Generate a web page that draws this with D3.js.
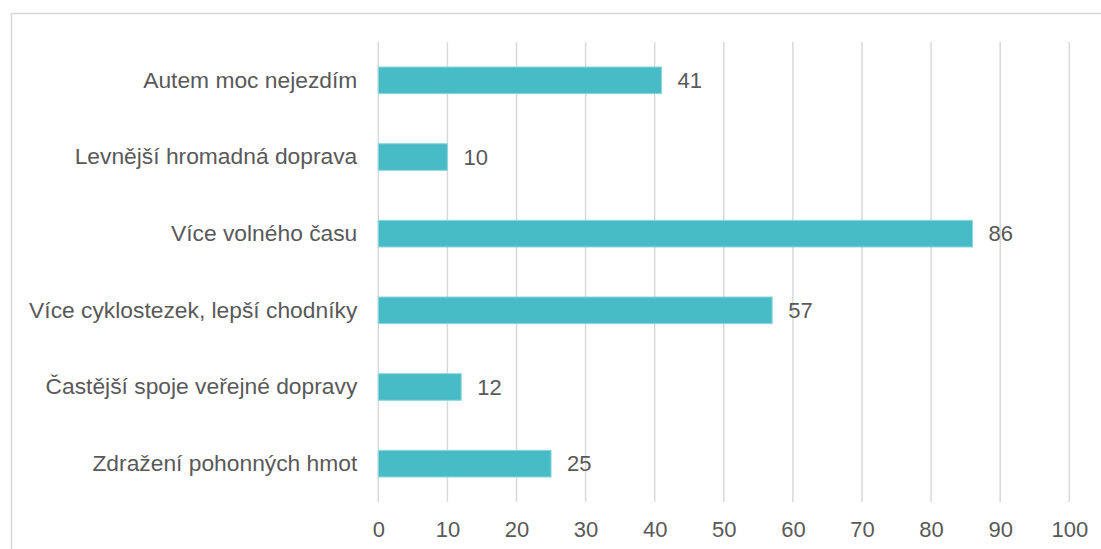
<!DOCTYPE html>
<html>
<head>
<meta charset="utf-8">
<script src="https://cdn.jsdelivr.net/npm/d3@7"></script>
<style>
  body { margin: 0; background: #fff; }
  svg text { font-family: "Liberation Sans", Arial, sans-serif; fill: #595959; }
</style>
</head>
<body>
<svg id="chart" width="1101" height="549"></svg>
<script>
// data
var categories = ['Autem moc nejezdím', 'Levnější hromadná doprava', 'Více volného času',
  'Více cyklostezek, lepší chodníky', 'Častější spoje veřejné dopravy', 'Zdražení pohonných hmot'];
var values = [41, 10, 86, 57, 12, 25];
var tickValues = [0, 10, 20, 30, 40, 50, 60, 70, 80, 90, 100];

var svg = d3.select('#chart');
var margin = {left: 378.3, right: 31.7, top: 42, bottom: 47};
var W = 1101, H = 549;

// outer frame
svg.append('rect')
  .attr('x', 11.5).attr('y', 13.5)
  .attr('width', 1100).attr('height', 600)
  .attr('fill', 'none').attr('stroke', '#d9d9d9').attr('stroke-width', 1.5);

var x = d3.scaleLinear().domain([0, 100]).range([margin.left, W - margin.right]);
var y = d3.scaleBand().domain(categories).range([margin.top, H - margin.bottom]).paddingInner(0.652).paddingOuter(0.326);

// gridlines
svg.append('g').selectAll('line')
  .data(tickValues)
  .enter().append('line')
  .attr('x1', function(d){ return x(d); })
  .attr('x2', function(d){ return x(d); })
  .attr('y1', margin.top).attr('y2', H - margin.bottom)
  .attr('stroke', '#d9d9d9').attr('stroke-width', 1.5);

// x axis labels
var xAxis = d3.axisBottom(x).tickValues(tickValues).tickSize(0).tickPadding(0);
var gx = svg.append('g').attr('transform', 'translate(0,' + (H - margin.bottom) + ')').call(xAxis);
gx.select('.domain').remove();
gx.selectAll('text')
  .attr('dy', null).attr('y', 35)
  .style('font-size', '22px').attr('fill', '#595959');

// category labels
var yAxis = d3.axisLeft(y).tickSize(0).tickPadding(21);
var gy = svg.append('g').attr('transform', 'translate(' + margin.left + ',0)').call(yAxis);
gy.select('.domain').remove();
gy.selectAll('text').style('font-size', '22.8px').attr('fill', '#595959');

// bars
var rows = categories.map(function(c, i){ return {cat: c, val: values[i]}; });
svg.append('g').selectAll('rect')
  .data(rows)
  .enter().append('rect')
  .attr('x', x(0))
  .attr('y', function(d){ return y(d.cat); })
  .attr('width', function(d){ return x(d.val) - x(0); })
  .attr('height', y.bandwidth())
  .attr('fill', '#47bcc6')
  .attr('stroke', '#8fd6dc').attr('stroke-width', 1);

// value labels
svg.append('g').selectAll('text')
  .data(rows)
  .enter().append('text')
  .attr('x', function(d){ return x(d.val) + 16; })
  .attr('y', function(d){ return y(d.cat) + y.bandwidth() / 2; })
  .attr('dy', '0.35em')
  .style('font-size', '22px')
  .text(function(d){ return d.val; });
</script>
</body>
</html>
